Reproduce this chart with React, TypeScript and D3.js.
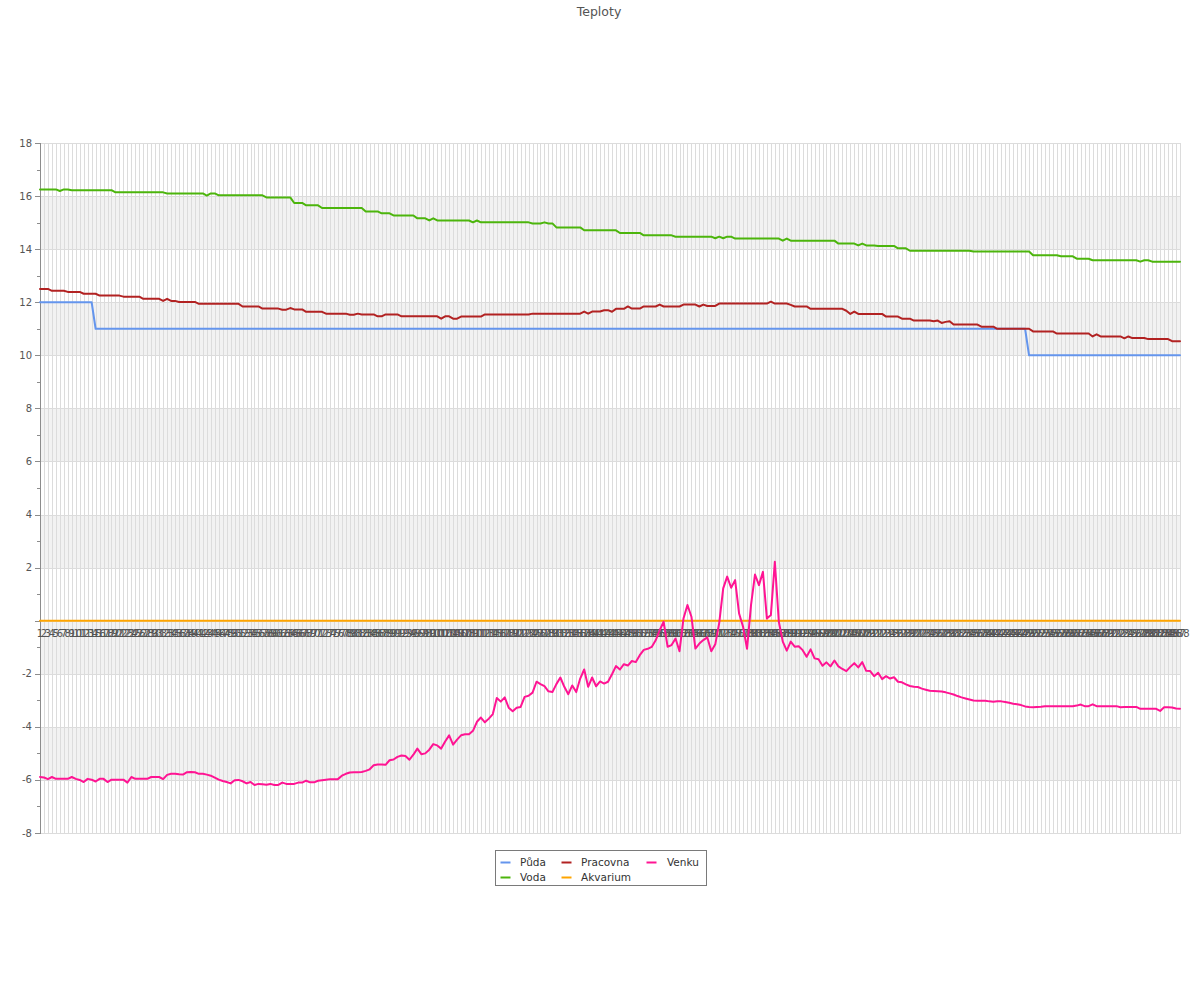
import React from 'react';
import * as d3 from 'd3';

const chartTitle = 'Teploty';
const categories: string[] = d3.range(1, 289).map((d) => String(d));
const yTicks = [-8, -6, -4, -2, 0, 2, 4, 6, 8, 10, 12, 14, 16, 18];
const yMinorTicks = [-7, -5, -3, -1, 1, 3, 5, 7, 9, 11, 13, 15, 17];
const yTickLabels = ['-8', '-6', '-4', '-2', '', '2', '4', '6', '8', '10', '12', '14', '16', '18'];
const bands: [number, number][] = [[-6, -4], [-2, 0], [2, 4], [6, 8], [10, 12], [14, 16]];

const seriesNames = ['Půda', 'Voda', 'Pracovna', 'Akvarium', 'Venku'];
const seriesColors = ['#6495ed', '#4cb50c', '#b22222', '#ffa500', '#ff1493'];

const puda = [
  12,12,12,12,12,12,12,12,12,12,12,12,12,12,11,11,11,11,11,11,11,11,11,11,
  11,11,11,11,11,11,11,11,11,11,11,11,11,11,11,11,11,11,11,11,11,11,11,11,
  11,11,11,11,11,11,11,11,11,11,11,11,11,11,11,11,11,11,11,11,11,11,11,11,
  11,11,11,11,11,11,11,11,11,11,11,11,11,11,11,11,11,11,11,11,11,11,11,11,
  11,11,11,11,11,11,11,11,11,11,11,11,11,11,11,11,11,11,11,11,11,11,11,11,
  11,11,11,11,11,11,11,11,11,11,11,11,11,11,11,11,11,11,11,11,11,11,11,11,
  11,11,11,11,11,11,11,11,11,11,11,11,11,11,11,11,11,11,11,11,11,11,11,11,
  11,11,11,11,11,11,11,11,11,11,11,11,11,11,11,11,11,11,11,11,11,11,11,11,
  11,11,11,11,11,11,11,11,11,11,11,11,11,11,11,11,11,11,11,11,11,11,11,11,
  11,11,11,11,11,11,11,11,11,11,11,11,11,11,11,11,11,11,11,11,11,11,11,11,
  11,11,11,11,11,11,11,11,11,10,10,10,10,10,10,10,10,10,10,10,10,10,10,10,
  10,10,10,10,10,10,10,10,10,10,10,10,10,10,10,10,10,10,10,10,10,10,10,10,
];

const voda = [
  16.25,16.25,16.25,16.25,16.25,16.19,16.25,16.25,16.22,16.22,16.22,16.22,16.22,16.22,16.22,16.22,16.22,16.22,16.22,16.14,16.14,16.14,16.14,16.14,
  16.14,16.14,16.14,16.14,16.14,16.14,16.14,16.14,16.1,16.1,16.1,16.1,16.1,16.1,16.1,16.1,16.1,16.1,16.02,16.1,16.1,16.03,16.03,16.03,
  16.03,16.03,16.03,16.03,16.03,16.03,16.03,16.03,16.03,15.95,15.95,15.95,15.95,15.95,15.95,15.95,15.74,15.74,15.74,15.65,15.65,15.65,15.65,15.55,
  15.55,15.55,15.55,15.55,15.55,15.55,15.55,15.55,15.55,15.55,15.42,15.42,15.42,15.42,15.35,15.35,15.35,15.27,15.27,15.27,15.27,15.27,15.27,15.16,
  15.16,15.16,15.08,15.16,15.08,15.08,15.08,15.08,15.08,15.08,15.08,15.08,15.08,15.01,15.08,15.01,15.01,15.01,15.01,15.01,15.01,15.01,15.01,15.01,
  15.01,15.01,15.01,15.01,14.97,14.97,14.97,15.01,14.97,14.97,14.82,14.82,14.82,14.82,14.82,14.82,14.82,14.71,14.71,14.71,14.71,14.71,14.71,14.71,
  14.71,14.71,14.61,14.61,14.61,14.61,14.61,14.61,14.52,14.52,14.52,14.52,14.52,14.52,14.52,14.52,14.47,14.47,14.47,14.47,14.47,14.47,14.47,14.47,
  14.47,14.47,14.41,14.47,14.41,14.47,14.47,14.4,14.4,14.4,14.4,14.4,14.4,14.4,14.4,14.4,14.4,14.4,14.4,14.32,14.4,14.32,14.32,14.32,
  14.32,14.32,14.32,14.32,14.32,14.32,14.32,14.32,14.32,14.21,14.21,14.21,14.21,14.21,14.14,14.21,14.14,14.14,14.14,14.12,14.12,14.12,14.12,14.12,
  14.03,14.03,14.03,13.94,13.94,13.94,13.94,13.94,13.94,13.94,13.94,13.94,13.94,13.94,13.94,13.94,13.94,13.94,13.94,13.91,13.91,13.91,13.91,13.91,
  13.91,13.91,13.91,13.91,13.91,13.91,13.91,13.91,13.91,13.91,13.77,13.77,13.77,13.77,13.77,13.77,13.77,13.73,13.73,13.73,13.73,13.64,13.64,13.64,
  13.64,13.58,13.58,13.58,13.58,13.58,13.58,13.58,13.58,13.58,13.58,13.58,13.58,13.53,13.58,13.58,13.53,13.53,13.53,13.53,13.53,13.53,13.53,13.53,
];

const pracovna = [
  12.5,12.5,12.5,12.43,12.43,12.43,12.43,12.39,12.39,12.39,12.39,12.32,12.32,12.32,12.32,12.25,12.25,12.25,12.25,12.25,12.25,12.21,12.21,12.21,
  12.21,12.21,12.13,12.13,12.13,12.13,12.13,12.05,12.13,12.05,12.05,12.01,12.01,12.01,12.01,12.01,11.94,11.94,11.94,11.94,11.94,11.94,11.94,11.94,
  11.94,11.94,11.94,11.84,11.84,11.84,11.84,11.84,11.76,11.76,11.76,11.76,11.76,11.72,11.72,11.78,11.73,11.73,11.73,11.64,11.64,11.64,11.64,11.64,
  11.57,11.57,11.57,11.57,11.57,11.57,11.53,11.53,11.57,11.54,11.54,11.54,11.54,11.47,11.47,11.54,11.54,11.54,11.54,11.47,11.47,11.47,11.47,11.47,
  11.47,11.47,11.47,11.47,11.47,11.38,11.47,11.47,11.38,11.38,11.46,11.46,11.46,11.46,11.46,11.46,11.54,11.54,11.54,11.54,11.54,11.54,11.54,11.54,
  11.54,11.54,11.54,11.54,11.57,11.57,11.57,11.57,11.57,11.57,11.57,11.57,11.57,11.57,11.57,11.57,11.57,11.65,11.57,11.65,11.65,11.65,11.7,11.7,
  11.64,11.75,11.75,11.75,11.84,11.76,11.76,11.76,11.84,11.84,11.84,11.84,11.91,11.84,11.84,11.84,11.84,11.84,11.91,11.91,11.91,11.91,11.84,11.91,
  11.86,11.86,11.86,11.95,11.95,11.95,11.95,11.95,11.95,11.95,11.95,11.95,11.95,11.95,11.95,11.95,12.02,11.95,11.95,11.95,11.95,11.9,11.84,11.84,
  11.84,11.84,11.75,11.75,11.75,11.75,11.75,11.75,11.75,11.75,11.75,11.68,11.56,11.65,11.56,11.56,11.56,11.56,11.56,11.56,11.56,11.46,11.46,11.46,
  11.46,11.38,11.38,11.38,11.31,11.31,11.31,11.31,11.31,11.28,11.31,11.22,11.26,11.28,11.16,11.16,11.16,11.16,11.16,11.16,11.16,11.08,11.08,11.08,
  11.08,11,11,11,11,11,11,11,11,11,10.9,10.9,10.9,10.9,10.9,10.9,10.82,10.82,10.82,10.82,10.82,10.82,10.82,10.82,
  10.82,10.71,10.79,10.71,10.71,10.71,10.71,10.71,10.71,10.64,10.71,10.65,10.65,10.65,10.65,10.61,10.61,10.61,10.61,10.61,10.61,10.53,10.53,10.53,
];

const akvarium = [
  0,0,0,0,0,0,0,0,0,0,0,0,0,0,0,0,0,0,0,0,0,0,0,0,
  0,0,0,0,0,0,0,0,0,0,0,0,0,0,0,0,0,0,0,0,0,0,0,0,
  0,0,0,0,0,0,0,0,0,0,0,0,0,0,0,0,0,0,0,0,0,0,0,0,
  0,0,0,0,0,0,0,0,0,0,0,0,0,0,0,0,0,0,0,0,0,0,0,0,
  0,0,0,0,0,0,0,0,0,0,0,0,0,0,0,0,0,0,0,0,0,0,0,0,
  0,0,0,0,0,0,0,0,0,0,0,0,0,0,0,0,0,0,0,0,0,0,0,0,
  0,0,0,0,0,0,0,0,0,0,0,0,0,0,0,0,0,0,0,0,0,0,0,0,
  0,0,0,0,0,0,0,0,0,0,0,0,0,0,0,0,0,0,0,0,0,0,0,0,
  0,0,0,0,0,0,0,0,0,0,0,0,0,0,0,0,0,0,0,0,0,0,0,0,
  0,0,0,0,0,0,0,0,0,0,0,0,0,0,0,0,0,0,0,0,0,0,0,0,
  0,0,0,0,0,0,0,0,0,0,0,0,0,0,0,0,0,0,0,0,0,0,0,0,
  0,0,0,0,0,0,0,0,0,0,0,0,0,0,0,0,0,0,0,0,0,0,0,0,
];

const venku = [
  -5.89,-5.91,-5.97,-5.89,-5.96,-5.96,-5.96,-5.96,-5.89,-5.96,-6.0,-6.08,-5.96,-5.99,-6.06,-5.96,-5.96,-6.08,-5.99,-5.99,-5.99,-5.99,-6.1,-5.89,
  -5.96,-5.96,-5.96,-5.96,-5.89,-5.89,-5.89,-5.97,-5.81,-5.77,-5.77,-5.79,-5.8,-5.71,-5.7,-5.71,-5.77,-5.77,-5.8,-5.84,-5.91,-5.99,-6.04,-6.08,
  -6.13,-6.01,-6.0,-6.05,-6.13,-6.08,-6.19,-6.15,-6.16,-6.18,-6.15,-6.19,-6.19,-6.1,-6.15,-6.15,-6.15,-6.1,-6.1,-6.03,-6.09,-6.09,-6.03,-6.01,
  -5.99,-5.97,-5.97,-5.97,-5.84,-5.77,-5.72,-5.71,-5.71,-5.7,-5.66,-5.6,-5.45,-5.42,-5.42,-5.43,-5.26,-5.23,-5.13,-5.08,-5.1,-5.24,-5.05,-4.82,
  -5.03,-5.0,-4.86,-4.65,-4.7,-4.82,-4.55,-4.32,-4.67,-4.48,-4.32,-4.28,-4.28,-4.15,-3.81,-3.65,-3.83,-3.69,-3.52,-2.91,-3.05,-2.89,-3.28,-3.41,
  -3.28,-3.25,-2.87,-2.83,-2.71,-2.3,-2.39,-2.47,-2.66,-2.69,-2.39,-2.14,-2.49,-2.77,-2.44,-2.69,-2.18,-1.84,-2.49,-2.14,-2.47,-2.29,-2.37,-2.3,
  -2.02,-1.71,-1.84,-1.64,-1.69,-1.52,-1.56,-1.3,-1.1,-1.06,-0.99,-0.74,-0.36,-0.04,-0.98,-0.92,-0.67,-1.15,0.08,0.59,0.15,-1.05,-0.86,-0.73,
  -0.63,-1.15,-0.89,-0.08,1.22,1.66,1.24,1.53,0.27,-0.23,-1.06,0.59,1.74,1.34,1.84,0.08,0.21,2.22,-0.04,-0.79,-1.13,-0.79,-0.98,-0.96,
  -1.11,-1.36,-1.08,-1.42,-1.45,-1.7,-1.57,-1.72,-1.5,-1.72,-1.82,-1.9,-1.74,-1.6,-1.76,-1.56,-1.89,-1.9,-2.09,-1.96,-2.2,-2.09,-2.18,-2.13,
  -2.3,-2.32,-2.4,-2.46,-2.49,-2.5,-2.56,-2.6,-2.64,-2.65,-2.66,-2.67,-2.7,-2.74,-2.78,-2.84,-2.89,-2.93,-2.97,-3.01,-3.02,-3.02,-3.02,-3.04,
  -3.05,-3.04,-3.04,-3.06,-3.09,-3.13,-3.15,-3.18,-3.23,-3.25,-3.26,-3.25,-3.24,-3.22,-3.22,-3.22,-3.22,-3.22,-3.22,-3.22,-3.22,-3.2,-3.16,-3.22,
  -3.22,-3.15,-3.22,-3.22,-3.22,-3.22,-3.22,-3.22,-3.26,-3.25,-3.25,-3.25,-3.25,-3.32,-3.32,-3.32,-3.32,-3.32,-3.4,-3.26,-3.26,-3.27,-3.31,-3.32,
];

const seriesValues = [puda, voda, pracovna, akvarium, venku];

export default function App() {
  const W = 1200;
  const H = 1000;
  const left = 40;
  const right = 1180;
  const top = 143;
  const bottom = 833;
  const font = "'DejaVu Sans', Verdana, sans-serif";
  const textColor = '#545454';

  const x = d3.scalePoint<string>().domain(categories).range([left, right]);
  const y = d3.scaleLinear().domain([-8, 18]).range([bottom, top]);
  const line = d3
    .line<number>()
    .x((_, i) => x(categories[i]) as number)
    .y((d) => y(d));

  const crisp = (v: number) => Math.round(v) + 0.5;

  // legend layout: column-major, 2 rows
  const legendCols = [500.5, 561.5, 646.5];
  const legendTextX = [520, 581, 667];
  const legendRows = [862.5, 877.5];

  return (
    <svg
      width={W}
      height={H}
      style={{ position: 'absolute', left: 0, top: 0, background: '#fff' }}
      fontFamily={font}
    >
      <rect x={0} y={0} width={W} height={H} fill="#fff" />
      <text x={599} y={15.5} textAnchor="middle" fontSize={12.5} fill={textColor}>
        {chartTitle}
      </text>

      {/* shaded bands */}
      {bands.map(([lo, hi], i) => (
        <rect
          key={'b' + i}
          x={left}
          y={Math.round(y(hi))}
          width={right - left + 1}
          height={Math.round(y(lo)) - Math.round(y(hi))}
          fill="#f2f2f2"
        />
      ))}

      {/* vertical gridlines */}
      {categories.map((c) => (
        <line
          key={'v' + c}
          x1={crisp(x(c) as number)}
          x2={crisp(x(c) as number)}
          y1={top}
          y2={bottom}
          stroke="#dcdcdc"
          strokeWidth={1}
        />
      ))}

      {/* horizontal gridlines */}
      {yTicks.map((t) => (
        <line
          key={'h' + t}
          x1={left}
          x2={right + 1}
          y1={crisp(y(t))}
          y2={crisp(y(t))}
          stroke="#dcdcdc"
          strokeWidth={1}
        />
      ))}

      {/* left axis */}
      <line x1={left + 0.5} x2={left + 0.5} y1={top} y2={bottom + 1} stroke="#8c8c8c" />
      {yTicks.map((t) => (
        <line key={'mt' + t} x1={left - 5} x2={left} y1={crisp(y(t))} y2={crisp(y(t))} stroke="#8c8c8c" />
      ))}
      {yMinorTicks.map((t) => (
        <line key={'nt' + t} x1={left - 3} x2={left} y1={crisp(y(t))} y2={crisp(y(t))} stroke="#8c8c8c" />
      ))}
      {yTicks.map((t, i) => (
        <text key={'yl' + t} x={32} y={y(t) + 3.5} textAnchor="end" fontSize={10} fill={textColor}>
          {yTickLabels[i]}
        </text>
      ))}

      {/* x tick labels at the zero line */}
      {categories.map((c) => (
        <text key={'xl' + c} x={x(c) as number} y={637} textAnchor="middle" fontSize={10} fill={textColor}>
          {c}
        </text>
      ))}

      {/* series */}
      {seriesValues.map((vals, si) => (
        <path
          key={'s' + si}
          d={line(vals) || ''}
          fill="none"
          stroke={seriesColors[si]}
          strokeWidth={2}
          strokeLinejoin="round"
          strokeLinecap="round"
        />
      ))}

      {/* legend */}
      <rect x={495.5} y={850.5} width={211} height={35} fill="#fff" stroke="#7a7a7a" strokeWidth={1} />
      {seriesNames.map((name, i) => {
        const col = Math.floor(i / 2);
        const row = i % 2;
        return (
          <g key={'lg' + i}>
            <line
              x1={legendCols[col]}
              x2={legendCols[col] + 10}
              y1={legendRows[row]}
              y2={legendRows[row]}
              stroke={seriesColors[i]}
              strokeWidth={2}
            />
            <text x={legendTextX[col]} y={legendRows[row] + 3.5} fontSize={10.5} fill="#333">
              {name}
            </text>
          </g>
        );
      })}
    </svg>
  );
}
